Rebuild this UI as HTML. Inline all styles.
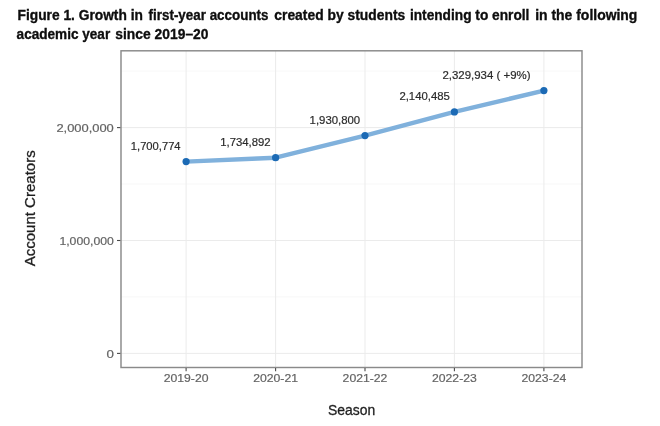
<!DOCTYPE html>
<html lang="en">
<head>
<meta charset="utf-8">
<title>Figure 1. Growth in first-year accounts</title>
<style>
  html, body { margin: 0; padding: 0; background: #ffffff; }
  body { width: 660px; height: 426px; overflow: hidden; }
  svg { display: block; }
  .ttl { font-family: "Liberation Sans", sans-serif; font-weight: 700; font-size: 14.4px; fill: #0a0a0a; stroke: #0a0a0a; stroke-width: 0.3px; }
  .tick { font-family: "Liberation Sans", sans-serif; font-size: 11px; fill: #636363; stroke: #636363; stroke-width: 0.2px; }
  .xt { font-size: 11.5px; }
  .lab { font-family: "Liberation Sans", sans-serif; font-size: 11px; fill: #2b2b2b; stroke: #2b2b2b; stroke-width: 0.2px; }
  .axt { font-family: "Liberation Sans", sans-serif; font-size: 14.4px; fill: #1f1f1f; stroke: #1f1f1f; stroke-width: 0.3px; }
</style>
</head>
<body>
<svg width="660" height="426" viewBox="0 0 660 426">
  <defs>
    <filter id="soft" x="-2%" y="-2%" width="104%" height="104%"><feGaussianBlur stdDeviation="0.6"/></filter>
  </defs>
  <rect x="0" y="0" width="660" height="426" fill="#ffffff"/>
  <g filter="url(#soft)">
    <!-- title -->
    <text class="ttl" x="17.6" y="20.1" textLength="125.3" lengthAdjust="spacingAndGlyphs">Figure 1. Growth in</text>
    <text class="ttl" x="148.6" y="20.1" textLength="119.9" lengthAdjust="spacingAndGlyphs">first-year accounts</text>
    <text class="ttl" x="274.3" y="20.1" textLength="130.9" lengthAdjust="spacingAndGlyphs">created by students</text>
    <text class="ttl" x="409.9" y="20.1" textLength="119.5" lengthAdjust="spacingAndGlyphs">intending to enroll</text>
    <text class="ttl" x="535.2" y="20.1" textLength="102.2" lengthAdjust="spacingAndGlyphs">in the following</text>
    <text class="ttl" x="16.6" y="39.3" textLength="93.6" lengthAdjust="spacingAndGlyphs">academic year</text>
    <text class="ttl" x="115.3" y="39.3" textLength="93.2" lengthAdjust="spacingAndGlyphs">since 2019–20</text>

    <!-- minor gridlines -->
    <g stroke="#f2f2f2" stroke-width="0.6" fill="none">
      <line x1="121" x2="582" y1="71.1" y2="71.1"/>
      <line x1="121" x2="582" y1="184.0" y2="184.0"/>
      <line x1="121" x2="582" y1="296.9" y2="296.9"/>
    </g>
    <!-- major gridlines -->
    <g stroke="#ebebeb" stroke-width="1" fill="none">
      <line x1="121" x2="582" y1="127.6" y2="127.6"/>
      <line x1="121" x2="582" y1="240.5" y2="240.5"/>
      <line x1="121" x2="582" y1="353.4" y2="353.4"/>
      <line y1="50.8" y2="367.5" x1="186.1" x2="186.1"/>
      <line y1="50.8" y2="367.5" x1="275.6" x2="275.6"/>
      <line y1="50.8" y2="367.5" x1="365.0" x2="365.0"/>
      <line y1="50.8" y2="367.5" x1="454.4" x2="454.4"/>
      <line y1="50.8" y2="367.5" x1="543.9" x2="543.9"/>
    </g>

    <!-- data line -->
    <polyline points="186.1,161.6 275.6,157.7 365.0,135.6 454.4,111.9 543.9,90.6" fill="none" stroke="#80b1dc" stroke-width="4.4" stroke-linejoin="round" stroke-linecap="butt"/>
    <g fill="#1c6bb5">
      <circle cx="186.1" cy="161.6" r="3.6"/>
      <circle cx="275.6" cy="157.7" r="3.6"/>
      <circle cx="365.0" cy="135.6" r="3.6"/>
      <circle cx="454.4" cy="111.9" r="3.6"/>
      <circle cx="543.9" cy="90.6" r="3.6"/>
    </g>

    <!-- data labels -->
    <text class="lab" x="130.8" y="149.7" textLength="49.8" lengthAdjust="spacingAndGlyphs">1,700,774</text>
    <text class="lab" x="220.2" y="145.8" textLength="50.4" lengthAdjust="spacingAndGlyphs">1,734,892</text>
    <text class="lab" x="309.6" y="123.5" textLength="50.6" lengthAdjust="spacingAndGlyphs">1,930,800</text>
    <text class="lab" x="399.4" y="99.8" textLength="50.4" lengthAdjust="spacingAndGlyphs">2,140,485</text>
    <text class="lab" x="442.4" y="78.7" textLength="88.2" lengthAdjust="spacingAndGlyphs">2,329,934 ( +9%)</text>

    <!-- panel border -->
    <rect x="121" y="50.8" width="461" height="316.7" fill="none" stroke="#8a8a8a" stroke-width="1.45"/>

    <!-- axis ticks -->
    <g stroke="#4a4a4a" stroke-width="1.1" fill="none">
      <line x1="117" x2="120.4" y1="127.6" y2="127.6"/>
      <line x1="117" x2="120.4" y1="240.5" y2="240.5"/>
      <line x1="117" x2="120.4" y1="353.4" y2="353.4"/>
      <line y1="368.1" y2="371.2" x1="186.1" x2="186.1"/>
      <line y1="368.1" y2="371.2" x1="275.6" x2="275.6"/>
      <line y1="368.1" y2="371.2" x1="365.0" x2="365.0"/>
      <line y1="368.1" y2="371.2" x1="454.4" x2="454.4"/>
      <line y1="368.1" y2="371.2" x1="543.9" x2="543.9"/>
    </g>

    <!-- y tick labels -->
    <text class="tick" x="56.4" y="131.9" textLength="57.4" lengthAdjust="spacingAndGlyphs">2,000,000</text>
    <text class="tick" x="59.4" y="244.8" textLength="54.4" lengthAdjust="spacingAndGlyphs">1,000,000</text>
    <text class="tick" x="106.6" y="357.7" textLength="7.4" lengthAdjust="spacingAndGlyphs">0</text>

    <!-- x tick labels -->
    <text class="tick xt" x="163.7" y="382.4" textLength="44.8" lengthAdjust="spacingAndGlyphs">2019-20</text>
    <text class="tick xt" x="253.2" y="382.4" textLength="44.8" lengthAdjust="spacingAndGlyphs">2020-21</text>
    <text class="tick xt" x="342.6" y="382.4" textLength="44.8" lengthAdjust="spacingAndGlyphs">2021-22</text>
    <text class="tick xt" x="432.0" y="382.4" textLength="44.8" lengthAdjust="spacingAndGlyphs">2022-23</text>
    <text class="tick xt" x="521.5" y="382.4" textLength="44.8" lengthAdjust="spacingAndGlyphs">2023-24</text>

    <!-- axis titles -->
    <text class="axt" x="328.0" y="415.0" textLength="47.2" lengthAdjust="spacingAndGlyphs">Season</text>
    <text class="axt" transform="translate(34.6 266.3) rotate(-90)" x="0" y="0" textLength="116" lengthAdjust="spacingAndGlyphs">Account Creators</text>
  </g>
</svg>
</body>
</html>
